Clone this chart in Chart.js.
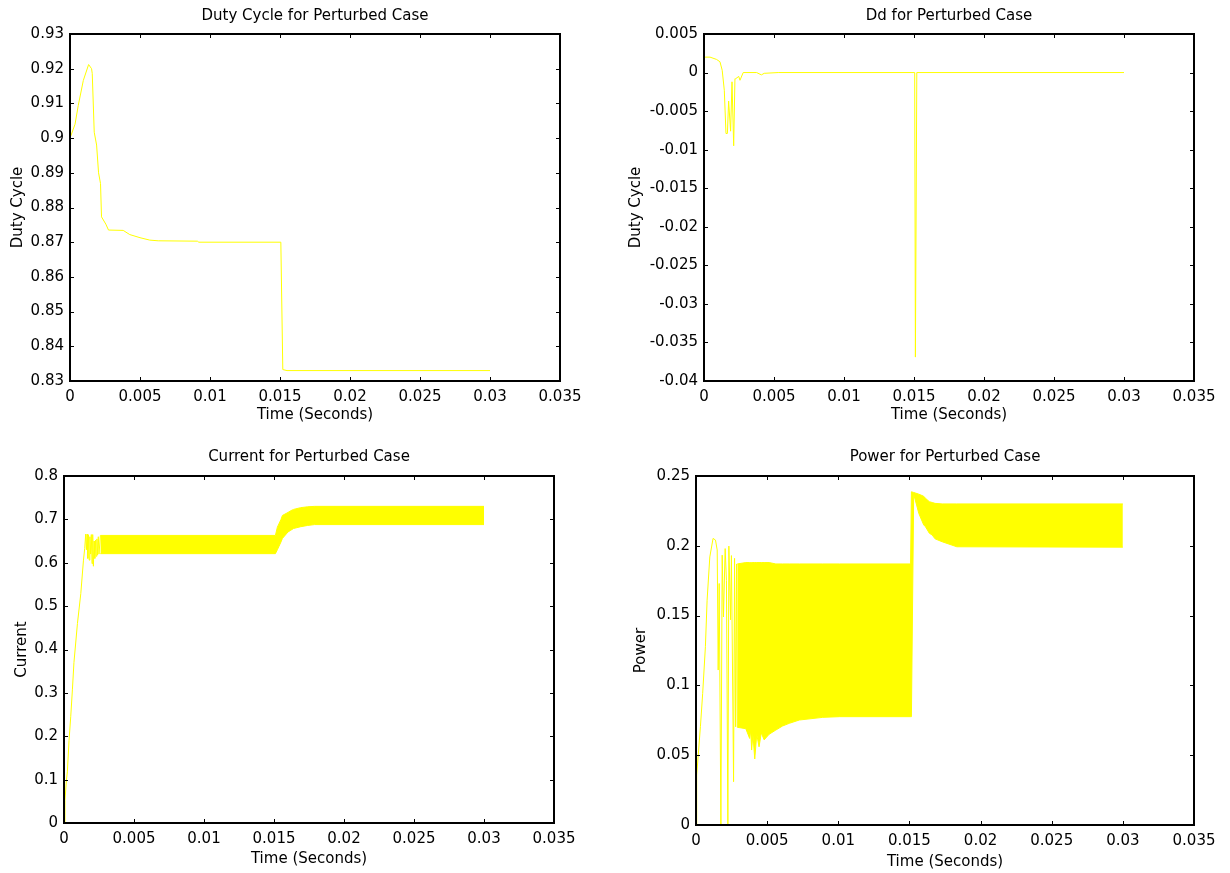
<!DOCTYPE html>
<html>
<head>
<meta charset="utf-8">
<script src="https://cdn.jsdelivr.net/npm/chart.js@4.4.0/dist/chart.umd.min.js"></script>
<style>
  html, body { margin: 0; padding: 0; background: #fff; }
  canvas { position: absolute; }
</style>
</head>
<body>
<canvas id="duty" width="615" height="430" style="left:0;top:0"></canvas>
<canvas id="dd" width="615" height="430" style="left:615px;top:0"></canvas>
<canvas id="current" width="615" height="443" style="left:0;top:430px"></canvas>
<canvas id="power" width="615" height="443" style="left:615px;top:430px"></canvas>
<script>
// tick values
const timeTicks = [0, 0.005, 0.01, 0.015, 0.02, 0.025, 0.03, 0.035];
const dutyTicks = [0.83, 0.84, 0.85, 0.86, 0.87, 0.88, 0.89, 0.9, 0.91, 0.92, 0.93];
const ddTicks = [-0.04, -0.035, -0.03, -0.025, -0.02, -0.015, -0.01, -0.005, 0, 0.005];
const currentTicks = [0, 0.1, 0.2, 0.3, 0.4, 0.5, 0.6, 0.7, 0.8];
const powerTicks = [0, 0.05, 0.1, 0.15, 0.2, 0.25];

// duty cycle
const dutyTime = [0, 0.00036, 0.00059, 0.00095, 0.00133, 0.00154, 0.00159, 0.00173, 0.0019, 0.00204, 0.00218, 0.00225, 0.00256, 0.00275, 0.0038, 0.00427, 0.005, 0.0057, 0.0063, 0.0091, 0.0092, 0.01506, 0.0152, 0.0155, 0.03];
const dutyValue = [0.9, 0.904, 0.9094, 0.9166, 0.9212, 0.920, 0.9186, 0.9017, 0.898, 0.890, 0.8869, 0.8773, 0.8752, 0.8735, 0.8734, 0.8722, 0.8713, 0.8706, 0.8704, 0.8703, 0.87, 0.87, 0.8333, 0.833, 0.833];

// Dd
const ddTime = [0, 0.00043, 0.0009, 0.00114, 0.0013, 0.00145, 0.00157, 0.00167, 0.00176, 0.0019, 0.002, 0.00212, 0.00221, 0.00226, 0.00248, 0.00257, 0.0028, 0.00376, 0.0041, 0.0043, 0.0053, 0.01505, 0.0151, 0.0152, 0.03];
const ddValue = [0.002, 0.002, 0.0017, 0.0014, 0.0003, -0.0023, -0.0079, -0.0079, -0.0037, -0.0076, -0.0012, -0.0095, -0.0008, -0.0008, -0.0005, -0.001, 0, 0, -0.0003, -0.0001, 0, 0, -0.0369, 0, 0];

// current: start-up trace, then the ripple band (upper / lower edge)
const currentTime = [0, 0.00007, 0.00017, 0.00024, 0.00036, 0.00048, 0.0006, 0.00071, 0.00096, 0.0012, 0.00139, 0.00148, 0.00155, 0.0016, 0.00165, 0.0017, 0.00175, 0.0018, 0.00185, 0.0019, 0.00195, 0.002, 0.00205, 0.0021, 0.00215, 0.0022, 0.00225, 0.0023, 0.00235, 0.0024, 0.00245, 0.0025, 0.0026];
const currentValue = [0, 0.0525, 0.098, 0.118, 0.19, 0.245, 0.307, 0.37, 0.46, 0.529, 0.606, 0.633, 0.666, 0.63, 0.666, 0.61, 0.664, 0.606, 0.66, 0.62, 0.665, 0.598, 0.665, 0.592, 0.65, 0.61, 0.652, 0.615, 0.655, 0.618, 0.66, 0.62, 0.663];
const currentBandTime = [0.0026, 0.015, 0.0151, 0.01524, 0.0155, 0.0156, 0.016, 0.0162, 0.0164, 0.0169, 0.0174, 0.0179, 0.03];
const currentBandHigh = [0.663, 0.663, 0.663, 0.682, 0.700, 0.709, 0.716, 0.720, 0.723, 0.727, 0.729, 0.730, 0.730];
const currentBandLow = [0.621, 0.621, 0.621, 0.630, 0.648, 0.656, 0.671, 0.675, 0.679, 0.683, 0.686, 0.688, 0.688];

// power: start-up trace, then the ripple band
const powerTime = [0, 0.00005, 0.00031, 0.00047, 0.00066, 0.00078, 0.00097, 0.0012, 0.00137, 0.00149, 0.00156, 0.00163, 0.00175, 0.00184, 0.00193, 0.00205, 0.00214, 0.00224, 0.00231, 0.00243, 0.00249, 0.00264, 0.00271, 0.00278, 0.00285, 0.0029];
const powerValue = [0, 0.0358, 0.0704, 0.0943, 0.1277, 0.161, 0.192, 0.2053, 0.2041, 0.197, 0.111, 0.173, 0, 0.1933, 0.149, 0.198, 0.175, 0, 0.1998, 0.147, 0.193, 0.031, 0.191, 0.0704, 0.187, 0.07];
const powerBandTime = [0.0029, 0.0035, 0.00377, 0.00385, 0.00391, 0.004, 0.00413, 0.00427, 0.00443, 0.00459, 0.00479, 0.00514, 0.00561, 0.00608, 0.00655, 0.00726, 0.00891, 0.01009, 0.01508, 0.01514, 0.0153, 0.01566, 0.016, 0.01613, 0.0164, 0.0166, 0.0168, 0.0173, 0.01833, 0.03];
const powerBandHigh = [0.187, 0.188, 0.188, 0.188, 0.188, 0.188, 0.188, 0.188, 0.188, 0.188, 0.188, 0.188, 0.187, 0.187, 0.187, 0.187, 0.187, 0.187, 0.187, 0.2387, 0.2382, 0.237, 0.2355, 0.234, 0.2316, 0.231, 0.2304, 0.23, 0.23, 0.23];
const powerBandLow = [0.07, 0.069, 0.062, 0.068, 0.0537, 0.065, 0.0473, 0.065, 0.056, 0.066, 0.061, 0.065, 0.068, 0.0709, 0.0728, 0.0752, 0.0771, 0.0776, 0.0776, 0.0776, 0.237, 0.2232, 0.215, 0.2136, 0.209, 0.2077, 0.205, 0.2029, 0.1993, 0.199];

const YELLOW = '#ffff00';
const FONT = { family: 'DejaVu Sans', size: 15, weight: 'normal' };

function points(xs, ys) {
  return xs.map((x, i) => ({ x: x, y: ys[i] }));
}

function fmt(v) {
  return String(+v.toFixed(4));
}

function lineSet(xs, ys) {
  return { data: points(xs, ys), borderColor: YELLOW, borderWidth: 1, pointRadius: 0, fill: false };
}

// ripple band: upper edge filled down to the lower edge
function bandSets(xs, hi, lo) {
  return [
    { data: points(xs, hi), borderColor: YELLOW, backgroundColor: YELLOW, borderWidth: 1, pointRadius: 0, fill: '+1' },
    { data: points(xs, lo), borderColor: YELLOW, borderWidth: 1, pointRadius: 0, fill: false }
  ];
}

// MATLAB style box with inward ticks on all four sides
const matlabBox = {
  id: 'matlabBox',
  afterDatasetsDraw(chart) {
    const { ctx, chartArea: a, scales: { x, y } } = chart;
    ctx.save();
    ctx.strokeStyle = '#000';
    ctx.lineWidth = 1;
    ctx.beginPath();
    x.ticks.forEach(t => {
      const px = Math.round(x.getPixelForValue(t.value)) + 0.5;
      ctx.moveTo(px, a.bottom); ctx.lineTo(px, a.bottom - 4);
      ctx.moveTo(px, a.top); ctx.lineTo(px, a.top + 4);
    });
    y.ticks.forEach(t => {
      const py = Math.round(y.getPixelForValue(t.value)) + 0.5;
      ctx.moveTo(a.left, py); ctx.lineTo(a.left + 4, py);
      ctx.moveTo(a.right, py); ctx.lineTo(a.right - 4, py);
    });
    ctx.stroke();
    ctx.lineWidth = 2;
    ctx.strokeRect(a.left, a.top, a.right - a.left, a.bottom - a.top);
    ctx.restore();
  }
};

function makeChart(id, o) {
  return new Chart(document.getElementById(id), {
    type: 'line',
    data: { datasets: o.datasets },
    plugins: [matlabBox],
    options: {
      responsive: false,
      animation: false,
      events: [],
      layout: { padding: { left: 0, top: 0, right: o.padRight, bottom: 0 } },
      plugins: {
        legend: { display: false },
        tooltip: { enabled: false },
        title: {
          display: true,
          text: o.title,
          color: '#000',
          font: FONT,
          fullSize: false,
          padding: { top: o.titlePad[0], bottom: o.titlePad[1] }
        }
      },
      scales: {
        x: {
          type: 'linear',
          min: 0,
          max: 0.035,
          afterBuildTicks: s => { s.ticks = timeTicks.map(v => ({ value: v })); },
          afterFit: s => { s.height = o.xHeight; },
          grid: { display: false, drawTicks: false },
          border: { display: false },
          ticks: { color: '#000', font: FONT, padding: 7, maxRotation: 0, autoSkip: false, callback: fmt },
          title: { display: true, text: 'Time (Seconds)', color: '#000', font: FONT, padding: { top: 0, bottom: o.xTitlePad } }
        },
        y: {
          type: 'linear',
          min: o.yTicks[0],
          max: o.yTicks[o.yTicks.length - 1],
          afterBuildTicks: s => { s.ticks = o.yTicks.map(v => ({ value: v })); },
          afterFit: s => { s.width = o.yWidth; },
          grid: { display: false, drawTicks: false },
          border: { display: false },
          ticks: { color: '#000', font: FONT, padding: 6, autoSkip: false, callback: fmt },
          title: { display: true, text: o.yTitle, color: '#000', font: FONT, padding: { top: o.yTitlePad, bottom: 0 } }
        }
      }
    }
  });
}

makeChart('duty', {
  title: 'Duty Cycle for Perturbed Case', yTitle: 'Duty Cycle', yTicks: dutyTicks,
  yWidth: 70, padRight: 55, xHeight: 49, titlePad: [7, 9], yTitlePad: 9, xTitlePad: 5.5,
  datasets: [lineSet(dutyTime, dutyValue)]
});

makeChart('dd', {
  title: 'Dd for Perturbed Case', yTitle: 'Duty Cycle', yTicks: ddTicks,
  yWidth: 89, padRight: 36, xHeight: 49, titlePad: [7, 9], yTitlePad: 11.8, xTitlePad: 5.5,
  datasets: [lineSet(ddTime, ddValue)]
});

makeChart('current', {
  title: 'Current for Perturbed Case', yTitle: 'Current', yTicks: currentTicks,
  yWidth: 64, padRight: 61, xHeight: 50, titlePad: [18, 10], yTitlePad: 13, xTitlePad: 5.3,
  datasets: bandSets(currentBandTime, currentBandHigh, currentBandLow).concat([lineSet(currentTime, currentValue)])
});

makeChart('power', {
  title: 'Power for Perturbed Case', yTitle: 'Power', yTicks: powerTicks,
  yWidth: 81, padRight: 36, xHeight: 48, titlePad: [18, 10], yTitlePad: 17, xTitlePad: 2,
  datasets: bandSets(powerBandTime, powerBandHigh, powerBandLow).concat([lineSet(powerTime, powerValue)])
});
</script>
</body>
</html>
